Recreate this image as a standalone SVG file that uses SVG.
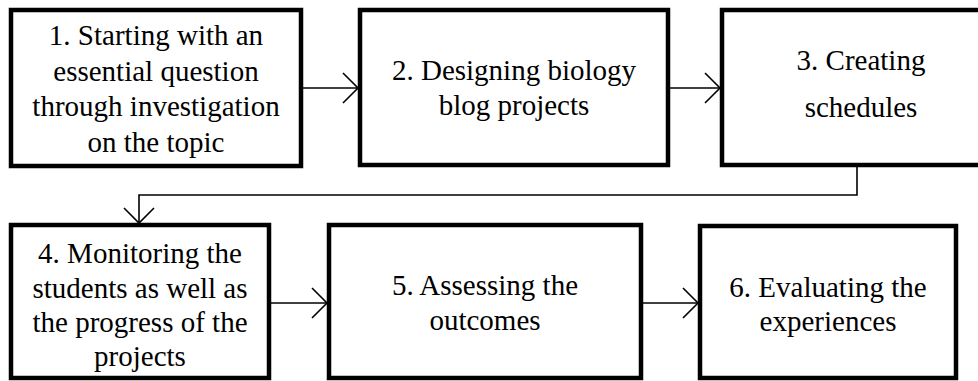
<svg xmlns="http://www.w3.org/2000/svg" width="978" height="381" viewBox="0 0 978 381">
<defs>
<style>
.box{fill:#fff;stroke:#000;stroke-width:4.5}
.t{font-family:'Liberation Serif','Times New Roman',serif;font-size:29px;fill:#000;text-anchor:middle}
.c{fill:none;stroke:#000;stroke-width:1.6}
</style>
<marker id="arr" markerUnits="userSpaceOnUse" markerWidth="20" markerHeight="34" refX="16" refY="16" orient="auto" viewBox="0 0 20 32" overflow="visible">
<path d="M1,1 L16,16 L1,31" fill="none" stroke="#000" stroke-width="1.6"/>
</marker>
</defs>
<rect width="978" height="381" fill="#fff"/>
<g id="connectors">
<line class="c" x1="303" y1="88" x2="358" y2="88" marker-end="url(#arr)"/>
<line class="c" x1="670" y1="88" x2="720" y2="88" marker-end="url(#arr)"/>
<polyline class="c" points="857,167 857,195 139,195 139,223" marker-end="url(#arr)"/>
<line class="c" x1="270" y1="303" x2="327" y2="303" marker-end="url(#arr)"/>
<line class="c" x1="643" y1="303" x2="698" y2="303" marker-end="url(#arr)"/>
</g>
<g id="node1">
<rect class="box" x="11" y="10" width="290" height="156"/>
<text class="t" x="156" y="45">1. Starting with an</text>
<text class="t" x="156" y="80.5">essential question</text>
<text class="t" x="156" y="116">through investigation</text>
<text class="t" x="156" y="151.5">on the topic</text>
</g>
<g id="node2">
<rect class="box" x="360" y="10" width="308" height="155"/>
<text class="t" x="514" y="80">2. Designing biology</text>
<text class="t" x="514" y="115">blog projects</text>
</g>
<g id="node3">
<rect class="box" x="722" y="10" width="280" height="155"/>
<text class="t" x="861" y="70">3. Creating</text>
<text class="t" x="861" y="117">schedules</text>
</g>
<g id="node4">
<rect class="box" x="11" y="225" width="258" height="153"/>
<text class="t" x="140" y="263">4. Monitoring the</text>
<text class="t" x="140" y="298">students as well as</text>
<text class="t" x="140" y="332">the progress of the</text>
<text class="t" x="140" y="366">projects</text>
</g>
<g id="node5">
<rect class="box" x="329" y="225" width="312" height="153"/>
<text class="t" x="485" y="295">5. Assessing the</text>
<text class="t" x="485" y="330">outcomes</text>
</g>
<g id="node6">
<rect class="box" x="700" y="226" width="256" height="152"/>
<text class="t" x="828" y="297">6. Evaluating the</text>
<text class="t" x="828" y="331">experiences</text>
</g>
</svg>
